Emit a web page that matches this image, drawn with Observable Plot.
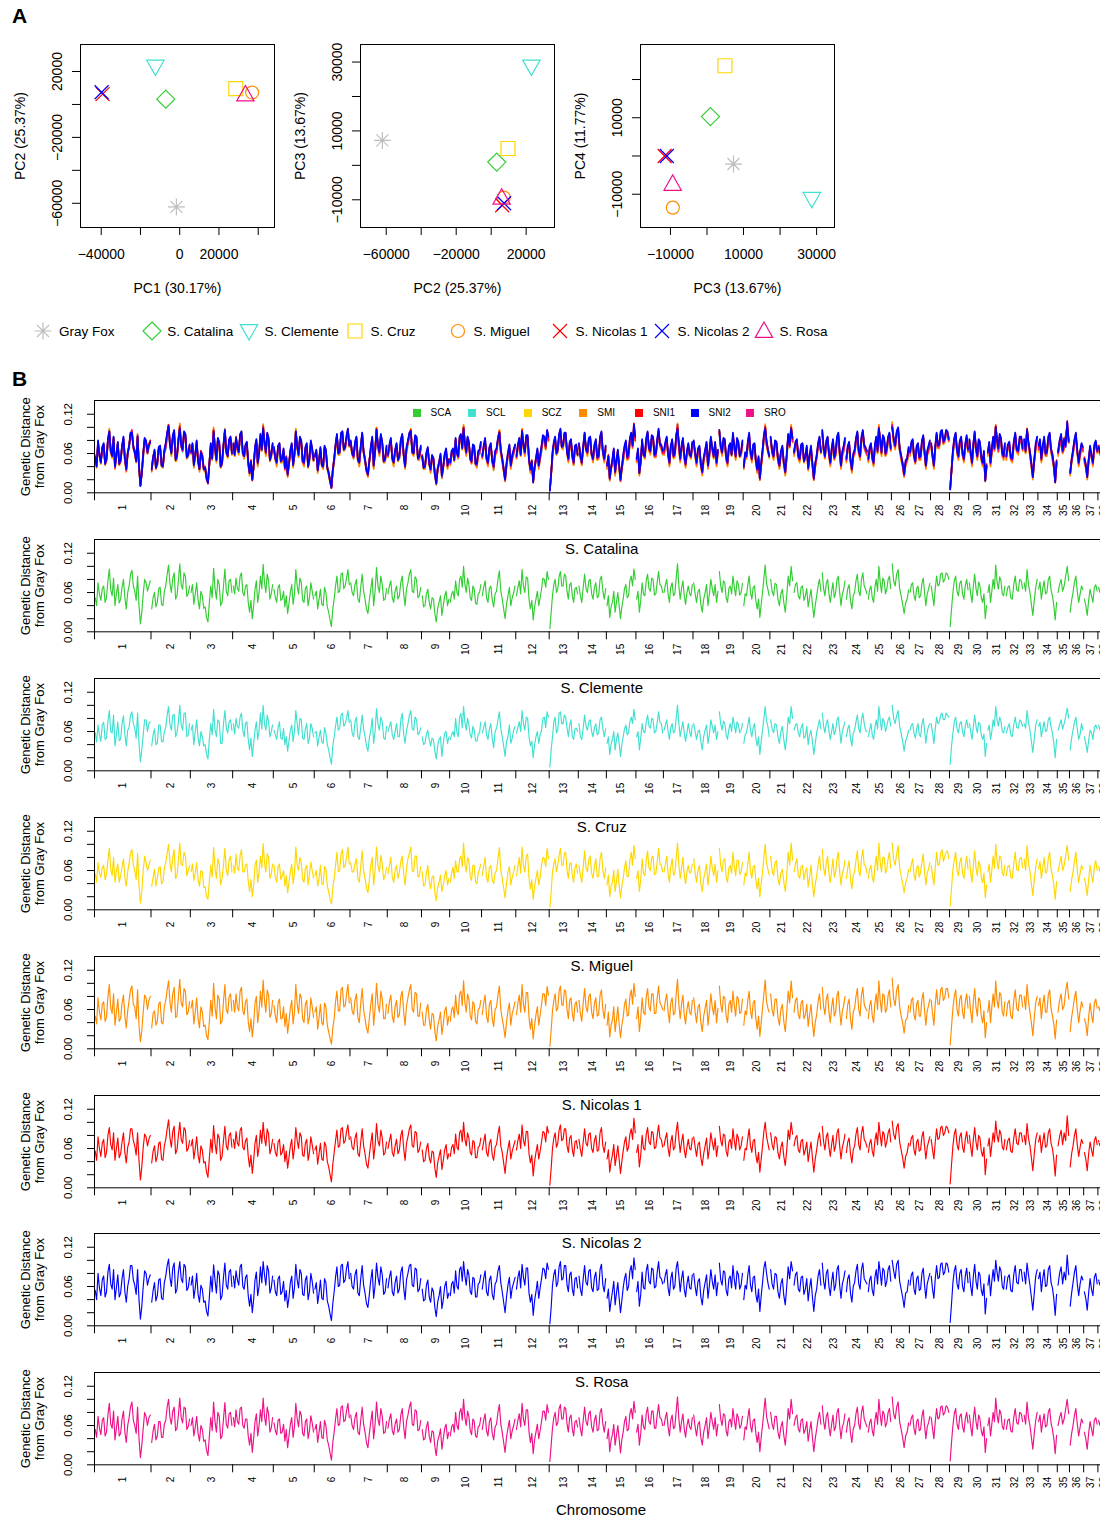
<!DOCTYPE html>
<html><head><meta charset="utf-8">
<script src="https://cdn.jsdelivr.net/npm/d3@7"></script>
<script src="https://cdn.jsdelivr.net/npm/@observablehq/plot@0.6"></script>
<style>
body{margin:0;background:#fff;}
#fig{position:relative;width:1100px;height:1519px;overflow:hidden;background:#fff;font-family:"Liberation Sans",Arial,Helvetica,sans-serif;color:#000;}
#fig > *{position:absolute;}
.plab{font-weight:bold;font-size:21px;line-height:1;}
.leg{font-size:13.5px;line-height:1;white-space:nowrap;}
.tleg{font-size:10px;line-height:1;white-space:nowrap;}
</style></head><body><div id="fig"></div>
<script>
const FONT = '"Liberation Sans", Arial, Helvetica, sans-serif';

// ---------- Panel A data ----------
const pops = ["Gray Fox","S. Catalina","S. Clemente","S. Cruz","S. Miguel","S. Nicolas 1","S. Nicolas 2","S. Rosa"];
const popColors = ["#BEBEBE","#32CD32","#40E0D0","#FFD700","#FF8C00","#FF0000","#0000FF","#EE1289"];
const pc1 = [-1700, -7100, -12400, 28600, 36900, -39300, -39800, 33500];
const pc2 = [-62200, 3200, 23000, 9600, 7200, 6300, 7400, 6000];
const pc3 = [7250, 950, 28700, 4900, -9350, -11600, -11000, -9400];
const pc4 = [-2100, 10300, -11200, 23600, -13500, 0, 0, -7300];

// ---------- Panel B data ----------
const chrNames = ["1","2","3","4","5","6","7","8","9","10","11","12","13","14","15","16","17","18","19","20","21","22","23","24","25","26","27","28","29","30","31","32","33","34","35","36","37","38"];
const chrLen = [122.7,85.4,91.9,88.3,88.9,77.6,81.0,74.3,61.1,69.3,74.4,72.5,63.2,61.0,64.2,59.6,64.3,55.8,53.1,58.1,50.9,61.4,52.3,47.7,51.6,39.0,45.9,41.2,41.8,40.2,39.8,38.8,31.4,42.1,26.5,30.8,30.9,23.9];
const popCodes = ["SCA","SCL","SCZ","SMI","SNI1","SNI2","SRO"];
const codeColors = ["#32CD32","#40E0D0","#FFD700","#FF8C00","#FF0000","#0000FF","#EE1289"];
const stripTitles = ["S. Catalina","S. Clemente","S. Cruz","S. Miguel","S. Nicolas 1","S. Nicolas 2","S. Rosa"];

// genetic distance from gray fox, in thousandths, consecutive windows per chromosome
const sca = [[52,40,75,58,48,66,70,45,52,78,96,64,55,82,40,58,72,44,50,68,80,52,35,60,70,88,94,70,62,48,85,40,12,30,58,80,75,62,70,78],[35,52,60,38,45,66,68,42,40,62,70,88,102,74,60,82,90,50,55,78,104,72,65,90,85,54,58,70],[60,72,42,58,75,48,35,62,55,36,38,22,15,45,70,52,97,66,50,80,72,40,45,70,96,62,55,78,80,60],[70,58,82,66,62,85,90,60,55,70,72,45,30,48,20,40,65,78,45,60,85,66,103,75,60,88,78,50,58,72],[65,52,45,68,72,48,50,62,38,55,28,44,60,72,42,58,95,70,58,82,75,48,45,66,70,40,52,75,62,50],[55,62,35,50,65,42,40,68,60,38,30,18,8,35,50,70,85,60,62,88,90,66,70,82,95,72],[75,60,55,72,80,50,45,68,88,62,50,35,28,48,65,82,40,62,98,70,60,85,72,48,50,66],[58,70,78,52,45,62,70,50,55,76,85,58,40,65,75,88,95,62,60,84,80,52,55,68],[55,38,40,58,65,45,35,52,50,28,15,36,45,55,25,40,55,62,40,50],[45,58,62,50,78,60,55,80,85,68,100,72,60,82,72,52,48,70,65,44,42,58,60,72],[55,68,78,52,45,66,70,48,38,58,62,80,93,62,50,35,20,42,55,68,40,52,60,70],[55,68,78,58,95,70,60,84,82,50,35,48,18,38,50,62,40,52,65,82,80,68,92,80],[5,30,55,72,80,60,65,85,92,70,70,88,85,62,50,72,75,55,45,66,68,58],[70,55,45,68,88,66,60,78,80,58,50,68,75,52,55,80,85,62,50,66],[40,55,22,38,45,62,30,45,60,40,20,38,50,66,72,52,55,78,85,70,96,80],[50,62,30,48,75,58,55,78,88,66,62,82,80,56,58,76,92,72,70,60],[60,72,80,58,45,68,75,55,58,82,104,70,50,66,78,55,42,60,70,58,55,72],[75,58,45,62,65,42,30,50,60,72,40,58,80,66,55,72,45,62],[92,70,60,78,75,52,45,66,70,58,85,68,55,78,72,56,60,74],[40,58,55,72,85,60,50,68,70,48,35,50,22,42,60,82,102,74,65,55],[80,62,55,74,72,50,40,58,65,45,30,55,85,70,100,78],[60,72,75,55,50,68,70,48,55,66,38,52,65,42,22,40,55,70,80,62],[90,66,55,74,80,58,45,62,75,52,60,80,85,60,40,58,65,78],[50,66,72,48,35,55,60,78,88,62,55,80,90,70,65,58],[50,64,70,52,45,68,80,62,100,76,60,82,78,58,65,80,85,66],[104,78,70,88,95,66,55,42,28,44,50,64],[60,72,75,55,48,66,70,52,55,74,82,60,40,58,65,74],[70,55,40,66,85,70,72,88,90,76,80,90,88,80],[8,35,60,78,85,62,55,74,78,58,50,70,80,64],[75,58,45,70,88,66,55,76,70,52,45,58,20,40],[60,72,45,62,80,66,102,76,65,84,78,58,55,70],[55,68,70,52,50,72,85,64,62,80,78,66],[75,62,95,72,60,42,25,48,68,80],[65,76,50,66,78,58,60,80,85,64,55,40,18,45],[60,72,80,62,70,85,100,78],[30,48,60,76,85,62,45,58,70,64],[50,40,25,48,65,55,45,68,72,62],[68,60,75,66,70,78,72,66]];
const scl = [[58,44,70,55,45,70,74,48,50,75,92,60,58,85,38,55,75,46,48,72,84,55,38,62,66,85,90,72,65,50,88,42,14,32,55,78,78,60,72,75],[38,55,64,40,42,70,70,45,44,60,66,85,98,70,62,85,86,52,58,75,100,70,62,88,88,52,55,72],[62,70,40,60,78,50,38,60,52,38,40,25,18,48,72,55,94,62,52,78,75,42,42,72,92,65,58,75,78,62],[72,56,80,68,65,82,88,62,52,72,75,48,32,50,22,42,62,75,48,62,88,64,100,72,62,85,75,52,60,70],[62,55,48,66,75,50,48,65,40,52,30,46,62,70,45,60,92,72,55,80,78,50,48,64,72,42,50,72,65,52],[58,60,38,52,62,44,42,66,58,40,32,20,10,38,52,68,82,62,65,85,88,68,72,80,92,74],[78,58,52,75,82,52,48,66,85,64,52,38,30,50,62,80,42,60,95,72,62,82,75,50,48,68],[60,68,75,55,48,60,72,52,52,78,88,56,42,62,72,85,92,64,62,82,78,55,58,66],[52,40,42,56,62,48,38,50,48,30,18,38,48,52,22,42,58,60,42,52],[48,55,60,52,80,58,52,82,88,66,98,74,62,80,70,55,50,68,62,46,45,56,58,75],[58,66,75,55,48,64,72,50,35,60,65,78,90,64,52,38,22,44,52,70,42,50,62,68],[58,66,75,60,92,72,62,82,80,52,38,45,20,40,52,60,42,55,62,80,82,66,90,82],[6,32,52,75,82,58,62,88,90,72,72,85,82,65,52,70,78,52,48,64,65,60],[72,52,48,66,85,68,62,75,78,60,52,66,72,55,58,78,82,65,52,64],[42,52,25,40,48,60,32,48,58,42,22,40,52,64,70,55,58,75,82,72,94,78],[52,60,32,50,72,60,58,75,85,68,65,80,78,58,60,74,90,74,72,58],[62,70,78,60,48,66,72,58,60,80,100,72,52,64,75,58,45,58,72,60,52,70],[72,60,48,60,62,45,32,52,62,70,42,56,78,68,58,70,48,60],[90,72,62,76,72,55,48,64,72,60,82,70,58,75,70,58,62,72],[42,55,58,70,82,62,52,66,72,50,38,52,25,45,62,80,98,76,68,52],[78,64,58,72,70,52,42,60,68,48,32,52,82,72,98,80],[62,70,72,58,52,66,72,50,52,68,40,55,62,45,25,42,58,68,78,64],[88,68,58,72,78,60,48,60,72,55,62,78,82,62,42,60,68,75],[52,64,70,50,38,58,62,75,85,64,58,78,88,72,62,60],[52,62,72,55,48,66,78,64,98,78,62,80,75,60,68,78,82,68],[100,80,72,85,92,68,58,45,30,46,52,62],[62,70,72,58,50,64,72,55,52,72,80,62,42,60,68,72],[72,58,42,64,82,72,75,85,88,78,78,88,85,82],[10,38,58,75,82,64,58,72,75,60,52,68,78,66],[72,60,48,68,85,68,58,74,72,55,48,56,22,42],[62,70,48,60,78,68,98,78,68,82,75,60,58,68],[58,66,72,55,52,70,82,66,65,78,75,68],[72,65,92,74,62,45,28,50,70,78],[68,74,52,64,75,60,62,78,82,66,58,42,20,48],[62,70,78,64,72,82,96,80],[32,50,62,74,82,64,48,56,72,62],[52,42,28,46,62,58,48,66,70,64],[70,62,72,68,72,76,70,68]];
const scz = [[55,42,72,56,50,64,68,46,55,76,94,62,52,80,42,60,70,42,52,66,78,50,36,58,72,86,92,68,60,46,86,38,10,28,60,82,72,60,68,76],[36,50,62,36,48,64,66,40,42,64,72,86,100,72,58,80,92,48,52,76,102,70,68,88,82,52,60,68],[58,70,45,56,72,46,36,60,58,34,35,20,16,44,68,50,95,64,48,78,70,38,48,68,94,60,52,76,82,58],[68,56,85,64,60,83,92,58,58,68,70,44,28,46,20,38,68,76,42,58,82,64,101,72,58,86,80,48,55,70],[68,50,42,66,70,46,52,60,36,52,26,42,58,70,40,56,96,68,60,80,72,46,42,64,68,38,55,73,60,48],[52,60,36,48,68,40,38,66,62,36,28,16,9,33,48,68,88,58,60,86,92,64,68,80,96,70],[72,58,58,70,78,48,42,66,90,60,48,33,26,46,68,80,38,60,96,68,58,83,70,46,52,64],[55,68,80,50,42,60,68,48,58,74,82,56,38,63,78,86,96,60,58,82,82,50,52,66],[58,36,38,56,68,43,32,50,52,26,14,34,42,53,28,38,52,60,38,48],[42,56,65,48,75,58,58,78,82,66,102,70,58,80,75,50,45,68,68,42,40,56,62,70],[52,66,80,50,42,64,68,46,40,56,60,78,95,60,48,33,18,40,58,66,38,50,58,68],[52,66,80,56,96,68,58,82,85,48,32,46,16,36,48,60,38,50,68,80,78,66,94,78],[4,28,58,70,78,58,68,83,94,68,68,86,88,60,48,70,72,53,42,64,70,56],[68,53,42,66,90,64,58,76,82,56,48,66,78,50,52,78,88,60,48,64],[38,53,20,36,42,60,28,43,62,38,18,36,48,64,75,50,52,76,88,68,98,78],[48,60,28,46,78,56,52,76,90,64,60,80,82,54,55,74,94,70,68,58],[58,70,82,56,42,66,78,53,55,80,102,68,48,64,80,53,40,58,68,56,58,70],[78,56,42,60,68,40,28,48,58,70,38,56,82,64,52,70,42,60],[94,68,58,76,78,50,42,64,68,56,88,66,52,76,75,54,58,72],[38,56,52,70,88,58,48,66,68,46,32,48,20,40,58,80,100,72,62,53],[82,60,52,72,75,48,38,56,62,43,28,53,88,68,102,76],[58,70,78,53,48,66,68,46,58,64,35,50,68,40,20,38,52,68,82,60],[92,64,52,72,82,56,42,60,78,50,58,78,88,58,38,56,62,76],[48,64,75,46,32,53,58,76,90,60,52,78,92,68,68,56],[48,62,68,50,42,66,82,60,102,74,58,80,80,56,62,78,88,64],[102,76,68,86,98,64,52,40,26,42,48,62],[58,70,78,53,45,64,68,50,58,72,85,58,38,56,62,72],[68,53,38,64,88,68,70,86,92,74,82,88,90,78],[6,33,62,76,88,60,52,72,80,56,48,68,82,62],[78,56,42,68,90,64,52,74,68,50,42,56,18,38],[58,70,42,60,82,64,100,74,62,82,80,56,52,68],[52,66,68,50,48,70,88,62,60,78,80,64],[78,60,98,70,58,40,22,46,65,78],[62,74,48,64,80,56,58,78,88,62,52,38,16,43],[58,70,82,60,68,83,98,76],[28,46,58,74,88,60,42,56,68,62],[48,38,22,46,68,53,42,66,75,60],[66,58,78,64,68,76,74,64]];
const smi = [[50,38,78,56,44,68,72,42,48,80,98,62,54,84,36,56,76,42,46,70,82,50,32,58,74,90,96,68,64,46,90,36,11,28,56,82,78,60,74,80],[32,54,58,36,42,68,72,40,38,64,74,90,104,72,56,84,94,48,50,80,106,70,64,92,88,52,56,72],[62,74,38,56,78,46,32,64,56,34,36,20,14,42,74,50,100,64,46,82,76,38,42,72,98,60,54,80,84,58],[74,56,84,64,58,88,94,58,52,72,76,42,26,46,18,38,70,80,40,58,88,64,105,74,56,90,82,48,54,74],[66,50,40,70,76,46,46,64,34,54,24,42,62,74,38,56,98,68,54,84,78,46,40,68,74,38,48,78,64,48],[56,64,30,48,68,40,36,70,64,36,26,16,7,32,46,72,88,58,58,90,94,64,66,84,98,70],[78,58,52,74,84,48,40,70,92,60,46,32,24,46,68,84,36,62,100,68,56,88,76,46,46,68],[54,72,82,50,40,64,74,48,52,80,88,56,36,66,78,90,98,60,56,86,84,50,50,70],[56,36,36,60,68,44,30,54,52,26,12,34,44,56,22,38,58,64,36,50],[42,60,64,48,82,58,52,84,88,66,104,70,56,84,76,50,44,72,68,42,38,60,62,74],[52,70,82,50,40,68,74,46,34,60,64,82,96,60,46,33,17,40,58,70,36,54,62,72],[52,70,82,56,98,68,56,86,86,48,30,46,15,36,52,64,36,52,68,84,84,66,95,82],[4,28,58,74,84,58,62,88,96,68,66,90,88,60,46,74,78,54,42,68,72,56],[74,54,42,70,92,64,56,80,84,56,46,70,78,50,52,82,90,60,46,68],[36,56,18,36,44,64,26,44,64,38,17,36,48,68,76,50,52,80,90,68,100,80],[46,64,26,46,78,56,52,80,92,64,58,84,84,54,54,78,96,70,66,60],[58,74,84,56,40,70,78,52,54,84,106,68,46,68,82,52,38,60,72,56,52,74],[78,56,40,64,68,40,26,50,62,74,36,56,84,64,52,74,40,62],[96,68,56,80,78,50,40,68,74,56,88,66,50,80,76,54,56,76],[36,58,52,74,88,58,46,70,74,46,30,50,19,40,62,84,105,72,62,56],[84,60,50,76,76,48,36,60,68,42,26,56,88,70,104,78],[56,74,78,52,46,70,74,46,52,68,34,52,68,40,19,40,52,72,84,60],[94,64,52,76,84,56,40,64,78,50,56,82,88,58,36,58,66,80],[46,68,76,46,30,56,62,80,92,60,50,82,94,68,62,58],[46,66,74,50,40,70,84,60,104,74,56,84,82,56,60,82,90,64],[108,76,66,90,98,64,50,40,24,44,46,66],[56,74,78,52,44,68,74,50,50,76,86,58,36,58,66,76],[74,54,36,68,90,68,68,90,94,74,78,92,92,78],[6,34,62,80,90,60,50,76,82,56,46,72,84,62],[80,56,40,72,92,64,50,78,74,50,40,58,17,40],[56,74,40,64,84,64,104,74,62,86,82,56,50,72],[50,70,74,50,46,74,90,62,58,82,82,64],[80,60,98,72,56,40,20,48,70,80],[66,78,46,68,82,56,56,82,90,62,50,38,15,44],[56,74,84,60,66,88,102,76],[26,48,62,78,88,60,40,58,72,64],[46,38,20,48,70,52,40,70,76,62],[64,58,80,64,66,80,76,64]];
const sni1 = [[56,42,78,60,48,68,74,46,54,80,92,66,58,84,42,60,76,46,52,70,84,54,38,62,70,90,90,72,64,50,84,42,12,32,62,82,78,64,74,80],[38,56,64,40,48,68,70,44,42,64,74,90,104,76,62,86,94,52,58,80,100,74,68,92,88,56,60,72],[64,74,44,60,78,50,38,64,58,38,40,24,16,46,74,54,95,68,52,82,76,42,48,72,94,64,58,80,84,62],[74,60,86,68,64,88,92,62,58,72,76,48,32,50,22,42,68,80,48,62,88,68,100,76,64,90,82,52,60,74],[68,54,48,70,74,50,54,66,40,56,30,46,64,74,44,60,92,72,60,84,78,50,48,68,74,42,54,78,66,52],[58,64,36,52,68,44,42,70,64,40,32,20,9,36,54,72,88,62,64,90,92,68,72,86,96,74],[78,62,58,76,84,52,48,70,90,64,52,36,30,50,68,84,44,64,98,72,64,88,76,50,54,70],[60,72,82,54,48,64,74,52,58,80,88,60,42,68,78,90,96,64,62,86,84,54,58,70],[58,40,42,60,68,46,38,56,54,30,16,38,48,58,28,42,58,66,44,52],[48,62,66,52,82,62,58,84,88,70,100,74,64,84,76,54,50,72,70,46,46,62,64,76],[58,70,82,54,48,68,74,50,42,62,66,82,94,64,54,38,22,46,60,72,44,56,64,72],[58,72,82,60,96,72,64,86,86,52,38,50,18,40,54,66,44,56,70,86,84,70,94,84],[4,30,60,76,84,62,68,88,96,72,74,90,90,64,54,76,80,58,48,70,72,60],[74,58,48,70,90,68,64,82,84,60,54,72,80,56,58,84,92,64,54,70],[44,58,24,40,50,66,34,48,64,44,22,40,56,70,78,56,62,82,90,74,106,84],[54,66,32,50,80,60,58,82,92,70,66,86,84,60,62,80,96,76,74,62],[64,76,84,60,48,70,80,58,62,86,100,74,54,70,82,58,46,62,74,60,58,76],[78,62,48,66,70,46,34,52,64,76,44,60,84,70,58,76,48,64],[94,72,64,82,80,56,48,70,74,60,90,72,58,82,76,58,64,78],[42,60,58,76,90,64,54,72,74,50,38,54,24,44,64,86,100,78,68,58],[84,66,58,78,76,54,44,62,70,48,34,58,88,74,100,82],[64,76,80,58,54,72,74,50,58,70,40,56,70,46,24,44,58,74,84,64],[94,70,58,78,84,62,48,66,80,56,64,84,90,64,44,62,70,82],[54,70,76,52,38,58,64,82,92,66,58,84,94,74,70,62],[54,68,74,56,48,72,84,66,100,80,64,86,82,62,70,84,90,70],[102,82,74,92,98,70,58,46,30,48,54,68],[64,76,80,58,50,70,74,56,58,78,86,64,44,62,70,78],[74,58,44,70,90,74,76,92,94,80,84,94,92,84],[6,36,64,82,90,66,58,78,84,62,54,74,86,68],[80,62,48,74,92,70,58,80,76,56,48,62,20,44],[64,76,48,66,84,70,102,80,70,88,82,62,58,74],[58,72,76,56,54,76,90,68,66,84,84,70],[80,66,98,76,64,46,26,52,74,84],[70,80,54,70,84,62,64,84,90,68,60,44,18,50],[64,78,88,66,84,72,110,80],[32,52,64,80,90,66,48,62,74,68],[54,44,26,52,70,58,48,72,78,66],[72,64,80,70,74,82,76,70]];
const sni2 = [[54,40,80,58,46,70,76,44,52,82,94,64,56,86,40,58,78,44,50,72,86,52,36,60,72,92,92,70,62,48,86,40,10,30,60,84,80,62,72,78],[36,54,66,38,46,70,72,42,40,66,76,92,102,74,60,88,96,50,56,82,98,72,66,94,90,54,58,74],[62,76,42,58,80,48,36,62,56,36,38,22,15,44,76,52,93,70,50,84,78,40,46,74,96,62,56,82,86,60],[76,58,84,70,62,90,94,60,56,74,78,46,30,48,20,40,70,82,46,60,90,66,98,78,62,92,84,50,58,76],[70,52,46,72,76,48,52,68,38,54,28,44,66,76,42,58,94,70,58,86,80,48,46,70,76,40,52,80,68,50],[56,66,34,50,70,42,40,72,66,38,30,18,8,34,52,74,90,60,62,92,94,66,70,88,98,72],[80,60,56,78,86,50,46,72,92,62,50,34,28,48,70,86,42,62,96,74,62,90,78,48,52,72],[58,74,84,52,46,66,76,50,56,82,90,58,40,70,80,92,94,62,60,88,86,52,56,72],[56,38,40,62,70,44,36,58,52,28,14,36,46,60,26,40,60,68,42,50],[46,64,68,50,84,60,56,86,90,68,98,76,62,86,78,52,48,74,72,44,44,64,66,78],[56,72,84,52,46,70,76,48,40,64,68,84,92,66,52,36,20,44,62,74,42,58,66,74],[56,74,84,58,94,74,62,88,88,50,36,48,16,38,52,68,42,58,72,88,86,72,96,86],[3,28,62,78,86,60,66,90,98,70,72,92,92,62,52,78,82,56,46,72,74,58],[76,56,46,72,92,66,62,84,86,58,52,74,82,54,56,86,94,62,52,72],[42,56,22,38,52,68,32,50,66,42,20,38,58,72,80,54,60,84,92,72,104,86],[52,68,30,48,82,58,56,84,94,68,64,88,86,58,60,82,98,74,72,64],[66,78,86,58,46,72,82,56,60,88,98,76,52,72,84,56,44,64,76,58,56,78],[80,60,46,68,72,44,32,54,66,78,42,62,86,68,56,78,46,66],[96,70,62,84,82,54,46,72,76,58,92,70,56,84,78,56,62,80],[40,62,56,78,92,62,52,74,76,48,36,56,22,46,66,88,98,80,66,56],[86,64,56,80,78,52,42,64,72,46,32,60,90,72,98,84],[62,78,82,56,52,74,76,48,56,72,38,58,72,44,22,46,56,76,86,62],[96,68,56,80,86,60,46,68,82,54,62,86,92,62,42,64,72,84],[52,72,78,50,36,60,66,84,94,64,56,86,96,72,68,64],[52,70,76,54,46,74,86,64,98,82,62,88,84,60,68,86,92,68],[100,84,72,94,100,68,56,44,28,50,52,70],[62,78,82,56,48,72,76,54,56,80,88,62,42,64,72,80],[76,56,42,72,92,72,74,94,96,78,82,96,94,82],[5,34,66,84,92,64,56,80,86,60,52,76,88,66],[82,60,46,76,94,68,56,82,78,54,46,64,18,42],[62,78,46,68,86,68,100,82,68,90,84,60,56,76],[56,74,78,54,52,78,92,66,64,86,86,68],[82,64,96,78,62,44,24,50,76,86],[72,82,52,72,86,60,62,86,92,66,58,42,16,48],[62,80,90,64,82,70,108,78],[30,50,66,82,92,64,46,64,76,70],[52,42,24,50,72,56,46,74,80,64],[70,62,82,68,72,84,78,68]];
const sro = [[54,42,74,56,46,68,72,44,50,76,94,62,56,82,38,56,74,44,48,70,82,50,34,60,72,88,96,68,60,48,88,40,11,30,56,80,74,60,72,76],[34,52,62,38,44,66,66,42,42,62,68,88,100,72,62,82,88,52,56,76,102,72,64,88,86,54,58,70],[60,72,44,58,74,48,36,60,54,36,38,22,14,44,72,52,96,66,50,80,74,40,44,70,95,62,56,78,80,60],[72,58,84,66,62,86,88,60,56,70,70,44,30,48,19,40,66,78,44,60,84,66,102,74,60,88,78,50,56,72],[64,52,46,68,70,48,50,62,36,54,26,44,62,72,42,58,94,70,58,82,76,48,44,66,70,40,52,75,64,50],[54,62,34,50,66,42,40,68,60,38,30,18,7,34,50,70,86,60,62,88,90,66,68,82,94,72],[76,60,54,72,80,50,46,68,88,62,50,34,26,48,66,82,40,62,96,70,60,86,74,48,50,66],[56,70,78,52,46,62,70,50,54,76,86,58,40,66,76,88,96,62,60,84,82,52,54,68],[54,38,40,58,66,44,34,52,50,28,14,36,44,55,24,40,56,62,40,50],[44,58,62,50,80,60,54,80,86,68,100,72,60,82,74,52,46,70,66,44,42,58,60,72],[54,68,78,52,44,66,72,48,38,58,62,80,92,62,50,34,19,42,56,68,40,52,60,70],[54,68,78,58,94,70,60,84,84,50,34,48,17,38,50,62,40,52,66,82,82,68,92,80],[5,30,56,72,80,60,64,86,92,70,70,88,86,62,50,72,76,55,44,66,68,58],[72,55,44,68,88,66,60,78,82,58,50,68,76,52,54,80,86,62,50,66],[40,55,20,38,46,62,30,45,60,40,18,38,50,66,74,52,54,78,86,70,97,80],[50,62,30,48,76,58,54,78,88,66,62,82,82,56,56,76,92,72,70,60],[60,72,80,58,44,68,76,55,58,82,104,70,50,66,78,55,42,60,70,58,54,72],[76,58,44,62,66,42,30,50,60,72,40,58,80,66,54,72,44,62],[92,70,60,78,76,52,44,66,70,58,86,68,54,78,72,56,60,74],[38,58,54,72,86,60,50,68,70,48,34,50,20,42,60,82,102,74,64,55],[80,62,54,74,74,50,40,58,66,45,30,55,86,70,100,78],[60,72,76,55,50,68,70,48,54,66,36,52,66,42,20,40,54,70,80,62],[90,66,54,74,80,58,44,62,76,52,58,80,86,60,40,58,64,78],[50,66,72,48,34,55,60,78,88,62,54,80,90,70,64,58],[50,64,70,52,44,68,80,62,100,76,60,82,78,58,64,80,86,66],[104,78,70,88,96,66,54,42,26,44,50,64],[60,72,76,55,46,66,70,52,54,74,84,60,40,58,64,74],[72,55,40,66,86,70,72,88,90,76,80,90,88,80],[6,35,60,78,86,62,54,74,78,58,50,70,80,64],[76,58,44,70,88,66,54,76,70,52,44,58,19,40],[60,72,44,62,80,66,102,76,64,84,78,58,54,70],[54,68,70,52,50,72,86,64,62,80,78,66],[76,62,96,72,60,42,24,48,68,80],[66,76,50,66,78,58,60,80,86,64,54,40,17,45],[60,72,80,62,70,85,100,78],[30,48,60,76,86,62,44,58,70,64],[50,40,24,48,66,55,44,68,72,62],[68,60,76,66,70,78,72,66]];
const seriesByCode = {SCA: sca, SCL: scl, SCZ: scz, SMI: smi, SNI1: sni1, SNI2: sni2, SRO: sro};

// ---------- helpers ----------
const fig = document.getElementById("fig");
function place(el, left, top) { el.style.left = left + "px"; el.style.top = top + "px"; fig.appendChild(el); return el; }
const fmt = d => (d < 0 ? "\u2212" : "") + Math.abs(d);

const symbols = [
  {draw(c){const r=8.5,d=r*0.7071;c.moveTo(-r,0);c.lineTo(r,0);c.moveTo(0,-r);c.lineTo(0,r);c.moveTo(-d,-d);c.lineTo(d,d);c.moveTo(-d,d);c.lineTo(d,-d);}},
  {draw(c){const r=9;c.moveTo(0,-r);c.lineTo(r,0);c.lineTo(0,r);c.lineTo(-r,0);c.closePath();}},
  {draw(c){c.moveTo(-8.7,-6.4);c.lineTo(8.7,-6.4);c.lineTo(0,9);c.closePath();}},
  {draw(c){c.rect(-7,-7,14,14);}},
  {draw(c){c.moveTo(6.5,0);c.arc(0,0,6.5,0,2*Math.PI);c.closePath();}},
  {draw(c){const r=7;c.moveTo(-r,-r);c.lineTo(r,r);c.moveTo(-r,r);c.lineTo(r,-r);}},
  {draw(c){const r=7;c.moveTo(-r,-r);c.lineTo(r,r);c.moveTo(-r,r);c.lineTo(r,-r);}},
  {draw(c){c.moveTo(0,-9);c.lineTo(8.7,6.4);c.lineTo(-8.7,6.4);c.closePath();}}
];

// ---------- Panel A ----------
function pcaPanel(left, xv, yv, xdom, ydom, xt, xl, yt, yl, xlab, ylab) {
  const data = pops.map((p, i) => ({i, x: xv[i], y: yv[i]}));
  const marks = [
    Plot.frame({stroke: "#000", strokeWidth: 1}),
    Plot.axisX({ticks: xt, tickSize: 8, tickFormat: () => "", label: null}),
    Plot.axisY({ticks: yt, tickSize: 8, tickFormat: () => "", label: null}),
    Plot.text(xl, {x: d => d, frameAnchor: "bottom", dy: 27, text: fmt, fontSize: 14, textAnchor: "middle", lineAnchor: "middle"}),
    Plot.text(yl, {y: d => d, frameAnchor: "left", dx: -22.5, rotate: -90, text: fmt, fontSize: 14, textAnchor: "middle", lineAnchor: "middle"}),
    Plot.text([xlab], {frameAnchor: "bottom", dy: 61, text: d => d, fontSize: 14, textAnchor: "middle", lineAnchor: "middle"}),
    Plot.text([ylab], {frameAnchor: "left", dx: -60, rotate: -90, text: d => d, fontSize: 14, textAnchor: "middle", lineAnchor: "middle"})
  ];
  data.forEach(d => marks.push(Plot.dot([d], {x: "x", y: "y", symbol: symbols[d.i], stroke: popColors[d.i], fill: "none", strokeWidth: 1.2})));
  const svg = Plot.plot({
    width: 290, height: 300, marginLeft: 80, marginRight: 16, marginTop: 44, marginBottom: 73,
    x: {domain: xdom, label: null}, y: {domain: ydom, label: null},
    style: {fontFamily: FONT, background: "transparent", maxWidth: "none", color: "#000"},
    marks
  });
  place(svg, left, 0);
}
pcaPanel(0, pc1, pc2, [-50560, 48300], [-74700, 36400],
  [-40000,-20000,0,20000,40000], [-40000,0,20000],
  [20000,0,-20000,-40000,-60000], [20000,-20000,-60000], "PC1 (30.17%)", "PC2 (25.37%)");
pcaPanel(280, pc2, pc3, [-74700, 36200], [-18050, 35100],
  [-60000,-40000,-20000,0,20000], [-60000,-20000,20000],
  [30000,20000,10000,0,-10000], [30000,10000,-10000], "PC2 (25.37%)", "PC3 (13.67%)");
pcaPanel(560, pc3, pc4, [-18200, 34900], [-18700, 29160],
  [-10000,0,10000,20000,30000], [-10000,10000,30000],
  [20000,10000,0,-10000], [10000,-10000], "PC3 (13.67%)", "PC4 (11.77%)");

// Panel A legend
const legSymX = [43.4, 151.8, 249, 355, 458, 560, 662, 764];
pops.forEach((p, i) => {
  const d = d3.symbol(symbols[i])();
  const s = document.createElementNS("http://www.w3.org/2000/svg", "svg");
  s.setAttribute("width", 22); s.setAttribute("height", 22);
  s.innerHTML = `<path d="${d}" transform="translate(11,11)" fill="none" stroke="${popColors[i]}" stroke-width="1.2"/>`;
  place(s, legSymX[i] - 11, 320);
  const t = document.createElement("div"); t.className = "leg"; t.textContent = p;
  place(t, legSymX[i] + 15.5, 324.5);
});

// ---------- Panel B ----------
const chrStart = []; let acc = 0;
chrLen.forEach(L => { chrStart.push(acc); acc += L; });
const genomeEnd = acc;
const chrBounds = [0, ...chrStart.slice(1), genomeEnd];
const chrMid = chrLen.map((L, i) => chrStart[i] + L / 2);
function rows(series) {
  const out = [];
  series.forEach((vals, c) => {
    const n = vals.length;
    vals.forEach((v, i) => out.push({chr: c, pos: chrStart[c] + (i + 0.5) * chrLen[c] / n, val: v / 1000}));
  });
  return out;
}

const stripTop0 = 400, stripStep = 138.9, plotH = 92.3, mTop = 8;
function strip(k, codes, title, sw) {
  const H = 139;
  const marks = [];
  codes.forEach(code => {
    const ci = popCodes.indexOf(code);
    marks.push(Plot.line(rows(seriesByCode[code]), {x: "pos", y: "val", z: "chr", stroke: codeColors[ci], strokeWidth: sw}));
  });
  marks.push(
    Plot.frame({stroke: "#000", strokeWidth: 1}),
    Plot.axisY({ticks: [0,0.02,0.04,0.06,0.08,0.10,0.12], tickSize: 7, tickFormat: () => "", label: null}),
    Plot.text([0, 0.06, 0.12], {y: d => d, frameAnchor: "left", dx: -26, rotate: -90, text: d => d.toFixed(2), fontSize: 11.5, textAnchor: "middle", lineAnchor: "middle"}),
    Plot.axisX({ticks: chrBounds, tickSize: 8, tickFormat: () => "", label: null}),
    Plot.text(chrNames, {x: (d, i) => chrMid[i], frameAnchor: "bottom", dy: 12, rotate: -90, textAnchor: "end", lineAnchor: "middle", text: d => d, fontSize: 10}),
    Plot.text(["Genetic Distance\nfrom Gray Fox"], {frameAnchor: "left", dx: -62, rotate: -90, text: d => d, fontSize: 13, lineHeight: 1.1, textAnchor: "middle", lineAnchor: "middle"})
  );
  if (title) marks.push(Plot.text([title], {frameAnchor: "top", dy: 10, text: d => d, fontSize: 15, textAnchor: "middle", lineAnchor: "middle"}));
  const svg = Plot.plot({
    width: 1112, height: H, marginLeft: 94, marginRight: 3.6, marginTop: mTop, marginBottom: H - mTop - plotH,
    x: {domain: [0, genomeEnd], label: null}, y: {domain: [0, 0.141], label: null},
    style: {fontFamily: FONT, background: "transparent", maxWidth: "none", color: "#000", overflow: "hidden"},
    marks
  });
  place(svg, 0, stripTop0 + k * stripStep - mTop);
}
strip(0, ["SCA","SCL","SCZ","SMI","SRO","SNI1","SNI2"], null, 1.7);
popCodes.forEach((code, i) => strip(i + 1, [code], stripTitles[i], 1.15));

// legend inside the top strip
popCodes.forEach((code, i) => {
  const sq = document.createElement("div");
  sq.style.width = "8px"; sq.style.height = "8px"; sq.style.background = codeColors[i];
  place(sq, 412.5 + i * 55.6, 409.3);
  const t = document.createElement("div"); t.className = "tleg"; t.textContent = code;
  place(t, 430.5 + i * 55.6, 408.3);
});

// panel letters and axis title
const A = document.createElement("div"); A.className = "plab"; A.textContent = "A"; place(A, 12, 5);
const B = document.createElement("div"); B.className = "plab"; B.textContent = "B"; place(B, 12, 368);
const xt = document.createElement("div"); xt.textContent = "Chromosome";
xt.style.fontSize = "15px"; xt.style.lineHeight = "1"; xt.style.width = "200px"; xt.style.textAlign = "center";
place(xt, 501, 1502);
</script>
</body></html>
